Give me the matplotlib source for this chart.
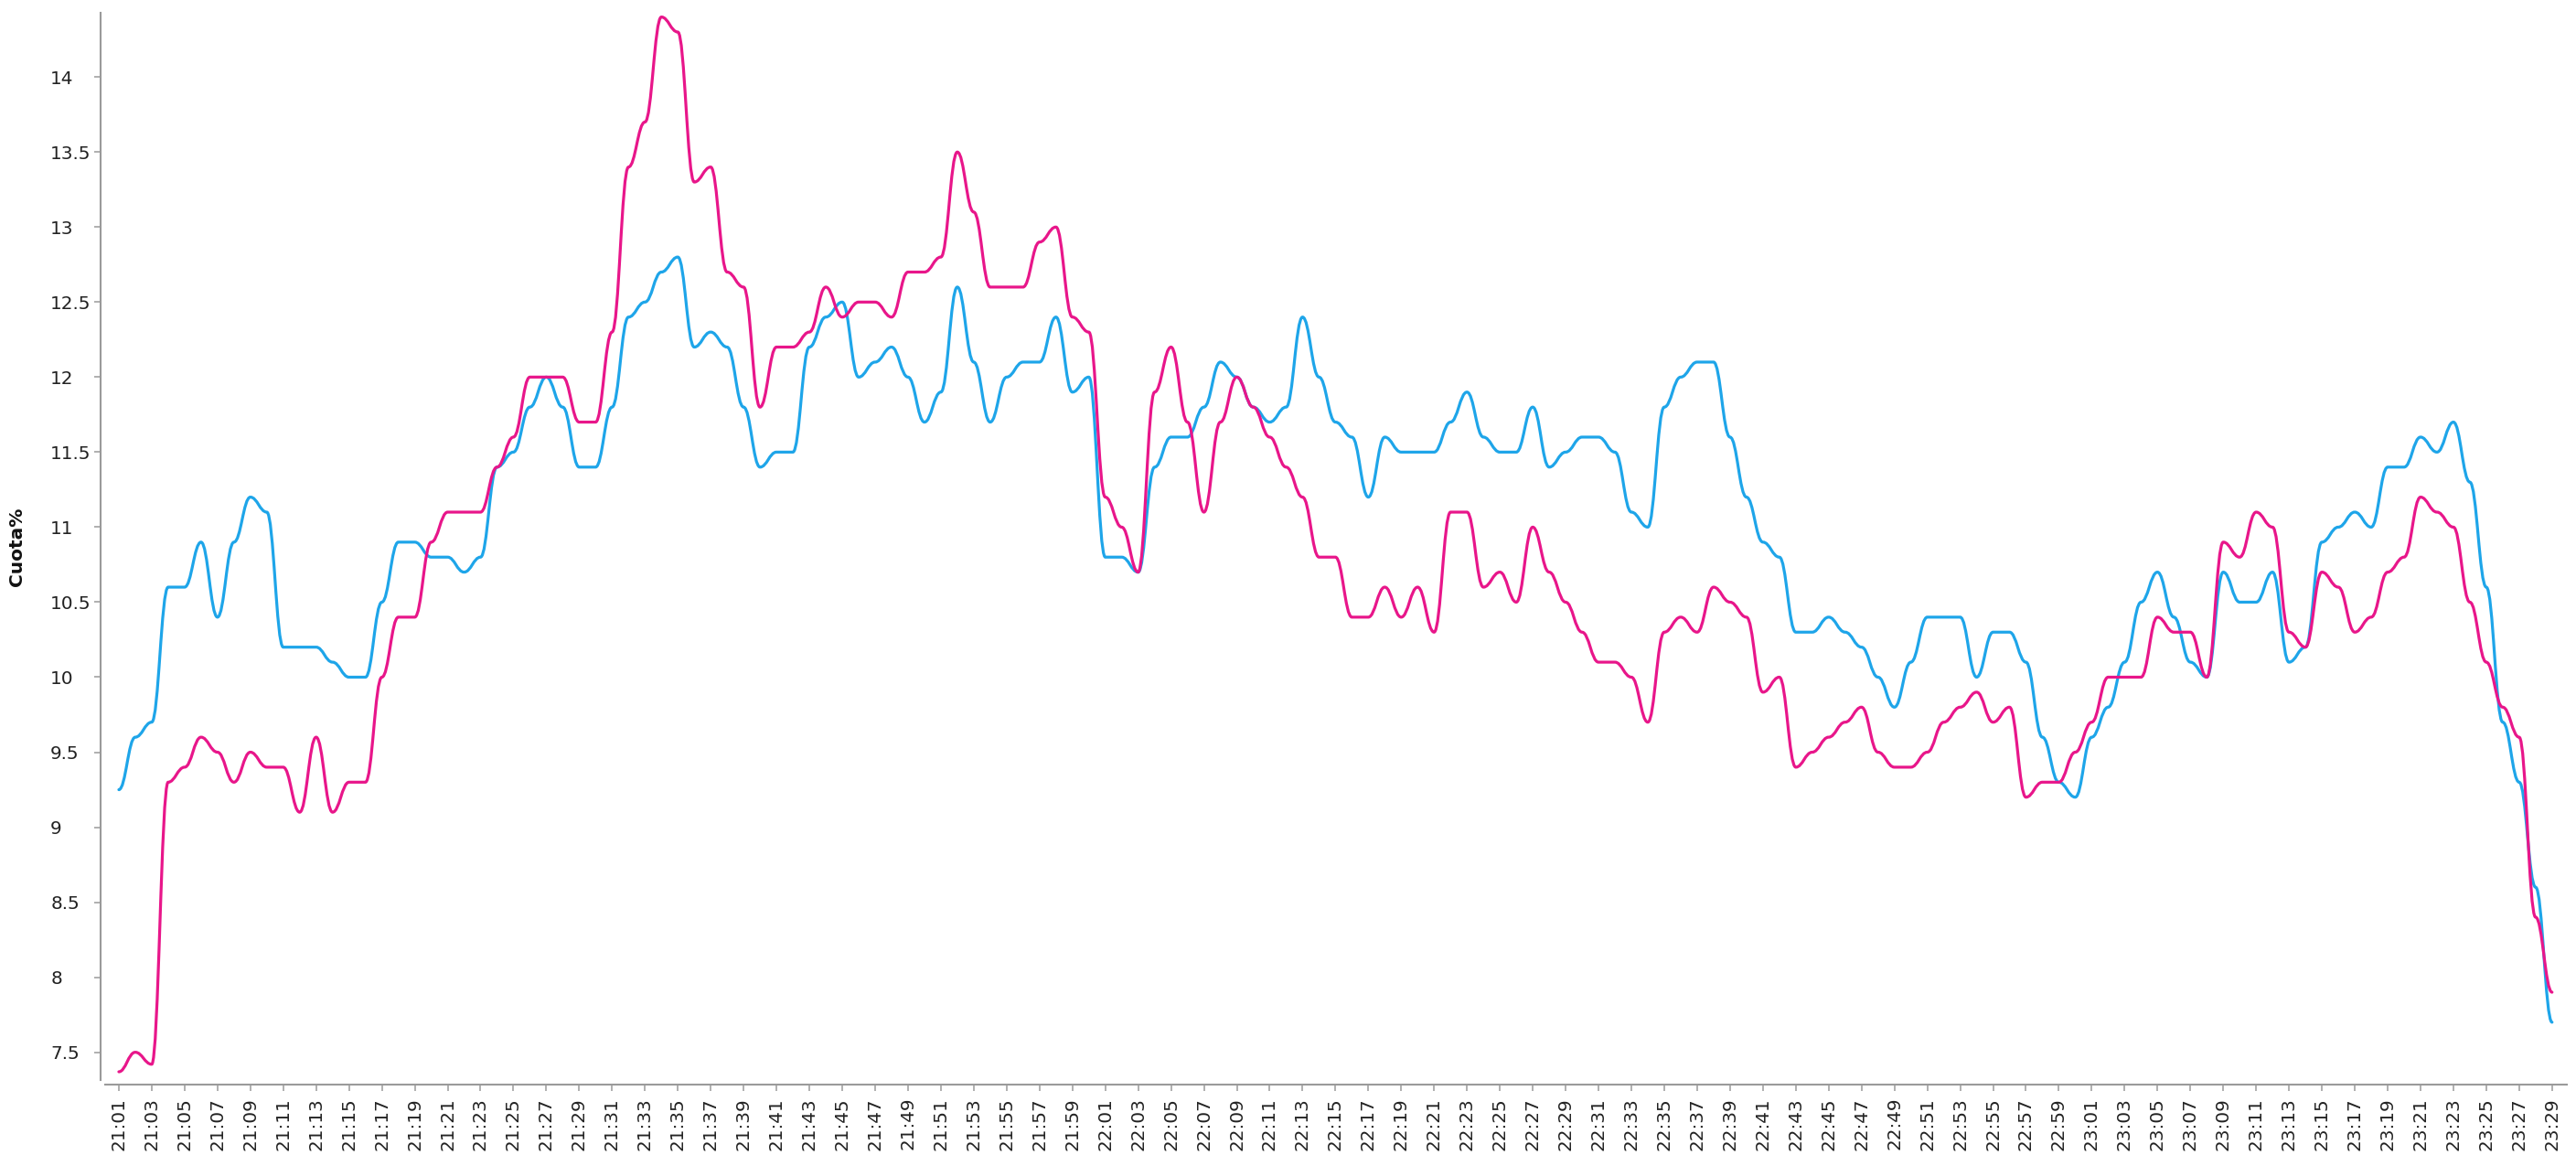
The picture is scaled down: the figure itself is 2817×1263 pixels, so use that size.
"""Cuota% minute by minute, two channels, smoothed lines."""

import matplotlib
matplotlib.use("Agg")
import matplotlib.pyplot as plt
import numpy as np
import pandas as pd
from matplotlib.path import Path
from matplotlib.patches import PathPatch

# One value per minute, 21:01 -> 23:29
times = pd.date_range("2021-01-01 21:01", "2021-01-01 23:29", freq="1min").strftime("%H:%M").tolist()

blue_share = [
    9.25, 9.6, 9.7, 10.6, 10.6, 10.9, 10.4, 10.9, 11.2, 11.1,
    10.2, 10.2, 10.2, 10.1, 10.0, 10.0, 10.5, 10.9, 10.9, 10.8,
    10.8, 10.7, 10.8, 11.4, 11.5, 11.8, 12.0, 11.8, 11.4, 11.4,
    11.8, 12.4, 12.5, 12.7, 12.8, 12.2, 12.3, 12.2, 11.8, 11.4,
    11.5, 11.5, 12.2, 12.4, 12.5, 12.0, 12.1, 12.2, 12.0, 11.7,
    11.9, 12.6, 12.1, 11.7, 12.0, 12.1, 12.1, 12.4, 11.9, 12.0,
    10.8, 10.8, 10.7, 11.4, 11.6, 11.6, 11.8, 12.1, 12.0, 11.8,
    11.7, 11.8, 12.4, 12.0, 11.7, 11.6, 11.2, 11.6, 11.5, 11.5,
    11.5, 11.7, 11.9, 11.6, 11.5, 11.5, 11.8, 11.4, 11.5, 11.6,
    11.6, 11.5, 11.1, 11.0, 11.8, 12.0, 12.1, 12.1, 11.6, 11.2,
    10.9, 10.8, 10.3, 10.3, 10.4, 10.3, 10.2, 10.0, 9.8, 10.1,
    10.4, 10.4, 10.4, 10.0, 10.3, 10.3, 10.1, 9.6, 9.3, 9.2,
    9.6, 9.8, 10.1, 10.5, 10.7, 10.4, 10.1, 10.0, 10.7, 10.5,
    10.5, 10.7, 10.1, 10.2, 10.9, 11.0, 11.1, 11.0, 11.4, 11.4,
    11.6, 11.5, 11.7, 11.3, 10.6, 9.7, 9.3, 8.6, 7.7,
]

pink_share = [
    7.37, 7.5, 7.42, 9.3, 9.4, 9.6, 9.5, 9.3, 9.5, 9.4,
    9.4, 9.1, 9.6, 9.1, 9.3, 9.3, 10.0, 10.4, 10.4, 10.9,
    11.1, 11.1, 11.1, 11.4, 11.6, 12.0, 12.0, 12.0, 11.7, 11.7,
    12.3, 13.4, 13.7, 14.4, 14.3, 13.3, 13.4, 12.7, 12.6, 11.8,
    12.2, 12.2, 12.3, 12.6, 12.4, 12.5, 12.5, 12.4, 12.7, 12.7,
    12.8, 13.5, 13.1, 12.6, 12.6, 12.6, 12.9, 13.0, 12.4, 12.3,
    11.2, 11.0, 10.7, 11.9, 12.2, 11.7, 11.1, 11.7, 12.0, 11.8,
    11.6, 11.4, 11.2, 10.8, 10.8, 10.4, 10.4, 10.6, 10.4, 10.6,
    10.3, 11.1, 11.1, 10.6, 10.7, 10.5, 11.0, 10.7, 10.5, 10.3,
    10.1, 10.1, 10.0, 9.7, 10.3, 10.4, 10.3, 10.6, 10.5, 10.4,
    9.9, 10.0, 9.4, 9.5, 9.6, 9.7, 9.8, 9.5, 9.4, 9.4,
    9.5, 9.7, 9.8, 9.9, 9.7, 9.8, 9.2, 9.3, 9.3, 9.5,
    9.7, 10.0, 10.0, 10.0, 10.4, 10.3, 10.3, 10.0, 10.9, 10.8,
    11.1, 11.0, 10.3, 10.2, 10.7, 10.6, 10.3, 10.4, 10.7, 10.8,
    11.2, 11.1, 11.0, 10.5, 10.1, 9.8, 9.6, 8.4, 7.9,
]

y_ticks = [7.5, 8, 8.5, 9, 9.5, 10, 10.5, 11, 11.5, 12, 12.5, 13, 13.5, 14]

BLUE = "#1ea5e9"
PINK = "#e8168a"
AXIS_GREY = "#9a9a9a"


def smooth_path(xs, ys, k=0.42):
    """Bezier path through the points, flat at every point."""
    verts = [(xs[0], ys[0])]
    codes = [Path.MOVETO]
    for x0, y0, x1, y1 in zip(xs[:-1], ys[:-1], xs[1:], ys[1:]):
        dx = (x1 - x0) * k
        verts += [(x0 + dx, y0), (x1 - dx, y1), (x1, y1)]
        codes += [Path.CURVE4] * 3
    return Path(verts, codes)


W, H = 2817, 1263
fig = plt.figure(figsize=(W / 100, H / 100), dpi=100)
ax = fig.add_axes([110 / W, 1 - 1181 / H, (2807 - 110) / W, (1181 - 14) / H])

x = np.arange(len(times))
for series, color in [(blue_share, BLUE), (pink_share, PINK)]:
    ax.add_patch(PathPatch(smooth_path(x, series), fill=False, edgecolor=color,
                           lw=2.3, capstyle="round", joinstyle="round"))

ax.set_xlim(-1.11, 148.9)
ax.set_ylim(7.315, 14.428)

# tick styling first: tick_params with pad rebuilds the tick labels
ax.tick_params(axis="both", length=5, width=1.1, color=AXIS_GREY, labelcolor="#222222")
ax.tick_params(axis="y", pad=34.5, labelsize=14.4)
ax.tick_params(axis="x", pad=5, labelsize=14.4, labelrotation=90)

ax.set_xticks(x[::2])
ax.set_xticklabels(times[::2])
ax.set_yticks(y_ticks)
ax.set_yticklabels([f"{v:g}" for v in y_ticks])
for lab in ax.get_yticklabels():
    lab.set_horizontalalignment("left")

for side in ["top", "right"]:
    ax.spines[side].set_visible(False)
for side in ["left", "bottom"]:
    ax.spines[side].set_color(AXIS_GREY)
    ax.spines[side].set_linewidth(1.5)
ax.spines["bottom"].set_position(("outward", 3.6))
ax.spines["bottom"].set_bounds(-0.83, 148.9)

ax.set_ylabel("Cuota%", fontsize=14.5, fontweight="bold", color="#111111")
ax.yaxis.set_label_coords(-0.0304, 0.5)

fig.savefig("out.png", dpi=100)
